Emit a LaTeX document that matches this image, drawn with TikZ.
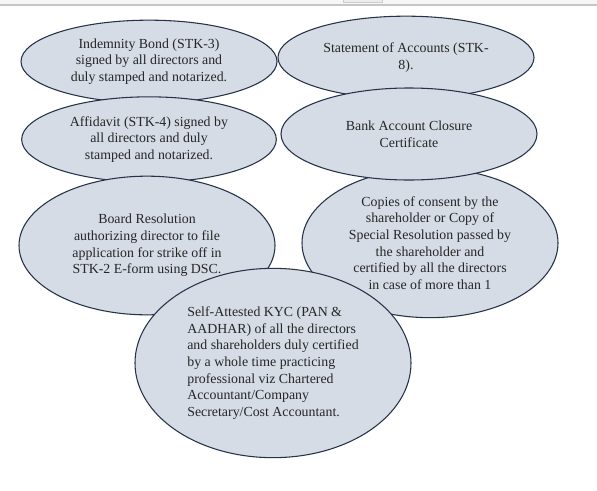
\documentclass[tikz,border=0pt]{standalone}
\usepackage{fontspec}
\setmainfont{Liberation Serif}
\usetikzlibrary{shapes.geometric}
\definecolor{bubblefill}{RGB}{214,220,229}
\definecolor{bubbleline}{RGB}{38,50,72}
\begin{document}
\begin{tikzpicture}[x=0.75pt,y=-0.75pt,
  bubble/.style={ellipse,draw=bubbleline,fill=bubblefill,line width=0.8pt,inner sep=0pt,
    align=center,font=\fontsize{10.4}{12.5}\selectfont,text=black!85}]
\useasboundingbox (0,0) rectangle (597,490);
\fill[gray!7] (0,0) rectangle (597,5);
\draw[gray!45,line width=0.9pt] (0,5)--(597,5);
\draw[gray!40,fill=gray!15] (343,-1) rectangle (382,2);
\node[bubble,minimum width=192pt,minimum height=62pt] (bond) at (149,61.5)
  {Indemnity Bond (STK-3)\\ signed by all directors and\\ duly stamped and notarized.};
\node[bubble,minimum width=191pt,minimum height=64pt] (affidavit) at (149,139.5)
  {Affidavit (STK-4) signed by\\ all directors and duly\\ stamped and notarized.};
\node[bubble,minimum width=192pt,minimum height=104pt] (board) at (147,245.5)
  {Board Resolution\\ authorizing director to file\\ application for strike off in\\ STK-2 E-form using DSC.};
\node[bubble,minimum width=192pt,minimum height=62pt] (statement) at (406,57.5)
  {Statement of Accounts (STK-\\ 8).};
\node[bubble,minimum width=192pt,minimum height=112pt] (consent) at (430,243)
  {Copies of consent by the\\ shareholder or Copy of\\ Special Resolution passed by\\ the shareholder and\\ certified by all the directors\\ in case of more than 1};
\node[bubble,minimum width=192pt,minimum height=69pt] (bank) at (409,134)
  {Bank Account Closure\\ Certificate};
\node[bubble,align=left,minimum width=207pt,minimum height=142pt] (kyc) at (273,363)
  {Self-Attested KYC (PAN \&\\ AADHAR) of all the directors\\ and shareholders duly certified\\ by a whole time practicing\\ professional viz Chartered\\ Accountant/Company\\ Secretary/Cost Accountant.};
\end{tikzpicture}
\end{document}
